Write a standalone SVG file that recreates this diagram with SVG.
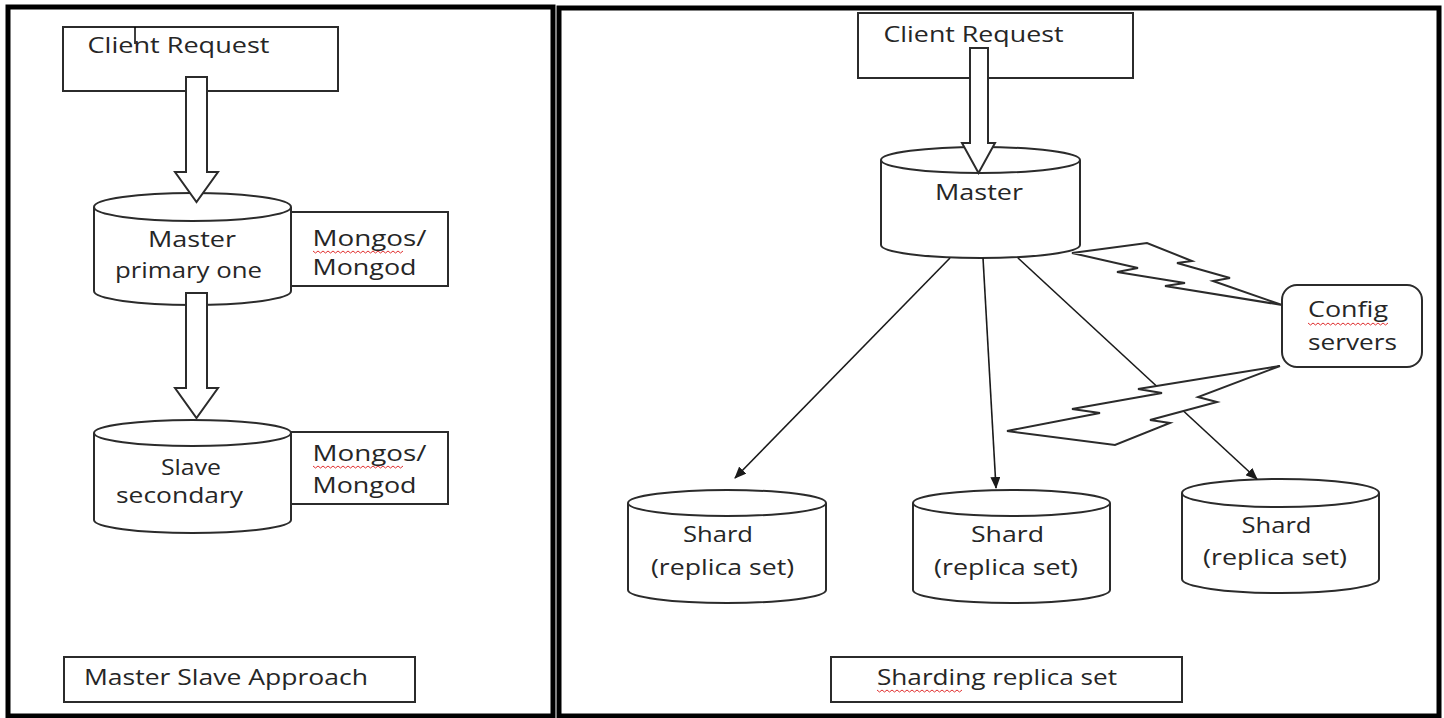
<svg xmlns="http://www.w3.org/2000/svg" width="1444" height="718" viewBox="0 0 1444 718">
<style>
  .panel{fill:none;stroke:#000;stroke-width:5}
  .box{fill:#fff;stroke:#2b2b2b;stroke-width:2}
  .cyl{fill:#fff;stroke:#2b2b2b;stroke-width:2}
  .blk{fill:#fff;stroke:#2b2b2b;stroke-width:2;stroke-linejoin:miter}
  .ln{fill:none;stroke:#1a1a1a;stroke-width:1.6}
  .bolt{fill:#fff;stroke:#2b2b2b;stroke-width:2;stroke-linejoin:miter}
  .t{font-family:"Open Sans","Noto Sans","Liberation Sans",sans-serif;fill:#262626;font-size:21px}
  .sq{fill:none;stroke:#e03030;stroke-width:1}
</style>
<defs>
  <marker id="ah" viewBox="0 0 12 10" refX="11" refY="5" markerWidth="12" markerHeight="10" markerUnits="userSpaceOnUse" orient="auto">
    <path d="M0,0 L12,5 L0,10 Z" fill="#1a1a1a"/>
  </marker>
</defs>
<rect width="1444" height="718" fill="#fff"/>

<g id="panel-left"><rect class="panel" x="8" y="7" width="545" height="709"/></g>
<g id="panel-right"><rect class="panel" x="559" y="8" width="880" height="708"/></g>

<!-- LEFT PANEL -->
<g id="ms-client">
  <rect class="box" x="63" y="27" width="275" height="64"/>
  <text class="t" x="87.5" y="53" textLength="182" lengthAdjust="spacingAndGlyphs">Client Request</text>
  <line x1="135" y1="27" x2="135" y2="44" stroke="#000" stroke-width="1.5"/>
</g>

<g id="ms-master">
  <path class="cyl" d="M94,207 L94,291 A98.5,14 0 0 0 291,291 L291,207"/>
  <ellipse class="cyl" cx="192.5" cy="207" rx="98.5" ry="14"/>
  <text class="t" x="148" y="247" textLength="88" lengthAdjust="spacingAndGlyphs">Master</text>
  <text class="t" x="115" y="278" textLength="147" lengthAdjust="spacingAndGlyphs">primary one</text>
</g>
<g id="ms-master-label">
  <rect class="box" x="291" y="212" width="157" height="74"/>
  <text class="t" x="312.5" y="246" textLength="114" lengthAdjust="spacingAndGlyphs">Mongos/</text>
  <text class="t" x="312.5" y="275" textLength="104" lengthAdjust="spacingAndGlyphs">Mongod</text>
  <path class="sq" d="M313,251 l2.5,2 l2.5,-2 l2.5,2 l2.5,-2 l2.5,2 l2.5,-2 l2.5,2 l2.5,-2 l2.5,2 l2.5,-2 l2.5,2 l2.5,-2 l2.5,2 l2.5,-2 l2.5,2 l2.5,-2 l2.5,2 l2.5,-2 l2.5,2 l2.5,-2 l2.5,2 l2.5,-2 l2.5,2 l2.5,-2 l2.5,2 l2.5,-2 l2.5,2 l2.5,-2 l2.5,2 l2.5,-2 l2.5,2 l2.5,-2 l2.5,2 l2.5,-2 l2.5,2 l2.5,-2"/>
</g>

<g id="ms-slave">
  <path class="cyl" d="M94,433 L94,520 A98.5,13 0 0 0 291,520 L291,433"/>
  <ellipse class="cyl" cx="192.5" cy="433" rx="98.5" ry="13"/>
  <text class="t" x="161" y="475" textLength="60" lengthAdjust="spacingAndGlyphs">Slave</text>
  <text class="t" x="116" y="503" textLength="127" lengthAdjust="spacingAndGlyphs">secondary</text>
</g>
<g id="ms-slave-label">
  <rect class="box" x="291" y="432" width="157" height="72"/>
  <text class="t" x="312.5" y="461" textLength="114" lengthAdjust="spacingAndGlyphs">Mongos/</text>
  <text class="t" x="312.5" y="493" textLength="104" lengthAdjust="spacingAndGlyphs">Mongod</text>
  <path class="sq" d="M313,466 l2.5,2 l2.5,-2 l2.5,2 l2.5,-2 l2.5,2 l2.5,-2 l2.5,2 l2.5,-2 l2.5,2 l2.5,-2 l2.5,2 l2.5,-2 l2.5,2 l2.5,-2 l2.5,2 l2.5,-2 l2.5,2 l2.5,-2 l2.5,2 l2.5,-2 l2.5,2 l2.5,-2 l2.5,2 l2.5,-2 l2.5,2 l2.5,-2 l2.5,2 l2.5,-2 l2.5,2 l2.5,-2 l2.5,2 l2.5,-2 l2.5,2 l2.5,-2 l2.5,2 l2.5,-2"/>
</g>

<g id="ms-caption">
  <rect class="box" x="64" y="657" width="351" height="45"/>
  <text class="t" x="84" y="685" textLength="284" lengthAdjust="spacingAndGlyphs">Master Slave Approach</text>
</g>

<!-- RIGHT PANEL -->
<g id="sh-client">
  <rect class="box" x="858" y="13" width="275" height="65"/>
  <text class="t" x="883.5" y="42" textLength="180" lengthAdjust="spacingAndGlyphs">Client Request</text>
</g>

<g id="sh-master">
  <path class="cyl" d="M881,160 L881,245 A99.5,13 0 0 0 1080,245 L1080,160"/>
  <ellipse class="cyl" cx="980.5" cy="160" rx="99.5" ry="13"/>
  <text class="t" x="935" y="200" textLength="88" lengthAdjust="spacingAndGlyphs">Master</text>
</g>

<g id="sh-config">
  <rect class="box" x="1282" y="285" width="140" height="82" rx="15" ry="15"/>
  <text class="t" x="1308" y="317" textLength="80" lengthAdjust="spacingAndGlyphs">Config</text>
  <text class="t" x="1308" y="350" textLength="89" lengthAdjust="spacingAndGlyphs">servers</text>
  <path class="sq" d="M1308,323 l2.5,2 l2.5,-2 l2.5,2 l2.5,-2 l2.5,2 l2.5,-2 l2.5,2 l2.5,-2 l2.5,2 l2.5,-2 l2.5,2 l2.5,-2 l2.5,2 l2.5,-2 l2.5,2 l2.5,-2 l2.5,2 l2.5,-2 l2.5,2 l2.5,-2 l2.5,2 l2.5,-2 l2.5,2 l2.5,-2 l2.5,2 l2.5,-2 l2.5,2 l2.5,-2 l2.5,2 l2.5,-2 l2.5,2 l2.5,-2"/>
</g>

<g id="sh-shard1">
  <path class="cyl" d="M628,503 L628,590 A99,13 0 0 0 826,590 L826,503"/>
  <ellipse class="cyl" cx="727" cy="503" rx="99" ry="13"/>
  <text class="t" x="683" y="542" textLength="70" lengthAdjust="spacingAndGlyphs">Shard</text>
  <text class="t" x="651" y="575" textLength="143" lengthAdjust="spacingAndGlyphs">(replica set)</text>
</g>
<g id="sh-shard2">
  <path class="cyl" d="M913,503 L913,590 A98.5,13 0 0 0 1110,590 L1110,503"/>
  <ellipse class="cyl" cx="1011.5" cy="503" rx="98.5" ry="13"/>
  <text class="t" x="971" y="542" textLength="73" lengthAdjust="spacingAndGlyphs">Shard</text>
  <text class="t" x="934" y="575" textLength="144" lengthAdjust="spacingAndGlyphs">(replica set)</text>
</g>
<g id="sh-shard3">
  <path class="cyl" d="M1182,493 L1182,579 A98.5,14 0 0 0 1379,579 L1379,493"/>
  <ellipse class="cyl" cx="1280.5" cy="493" rx="98.5" ry="14"/>
  <text class="t" x="1241.5" y="533" textLength="70" lengthAdjust="spacingAndGlyphs">Shard</text>
  <text class="t" x="1203" y="565" textLength="144" lengthAdjust="spacingAndGlyphs">(replica set)</text>
</g>

<g id="sh-caption">
  <rect class="box" x="831" y="657" width="351" height="45"/>
  <text class="t" x="877" y="685" textLength="240" lengthAdjust="spacingAndGlyphs">Sharding replica set</text>
  <path class="sq" d="M877,690 l2.5,2 l2.5,-2 l2.5,2 l2.5,-2 l2.5,2 l2.5,-2 l2.5,2 l2.5,-2 l2.5,2 l2.5,-2 l2.5,2 l2.5,-2 l2.5,2 l2.5,-2 l2.5,2 l2.5,-2 l2.5,2 l2.5,-2 l2.5,2 l2.5,-2 l2.5,2 l2.5,-2 l2.5,2 l2.5,-2 l2.5,2 l2.5,-2 l2.5,2 l2.5,-2 l2.5,2 l2.5,-2 l2.5,2 l2.5,-2 l2.5,2 l2.5,-2"/>
</g>

<!-- CONNECTORS -->
<g id="connectors">
  <path class="blk" d="M186,77 L207,77 L207,172 L218,172 L196.5,202 L175,172 L186,172 Z"/>
  <path class="blk" d="M186,293 L207,293 L207,388 L218,388 L196.5,418 L175,388 L186,388 Z"/>
  <path class="blk" d="M970,48 L988,48 L988,143 L995,143 L978.5,173 L962,143 L970,143 Z"/>
  <line class="ln" x1="950" y1="258" x2="735" y2="478" marker-end="url(#ah)"/>
  <line class="ln" x1="983" y1="258" x2="996" y2="488" marker-end="url(#ah)"/>
  <line class="ln" x1="1018" y1="258" x2="1257" y2="479" marker-end="url(#ah)"/>
  <polygon class="bolt" points="1072,253 1147,243 1192,261 1177,263 1230,278 1213,281 1282,305 1165,286 1185,283 1117,272 1138,268"/>
  <polygon class="bolt" points="1007,431 1100,413 1072,409 1162,393 1138,389 1280,366 1198,397 1217,402 1150,420 1170,423 1115,445"/>
</g>
</svg>
